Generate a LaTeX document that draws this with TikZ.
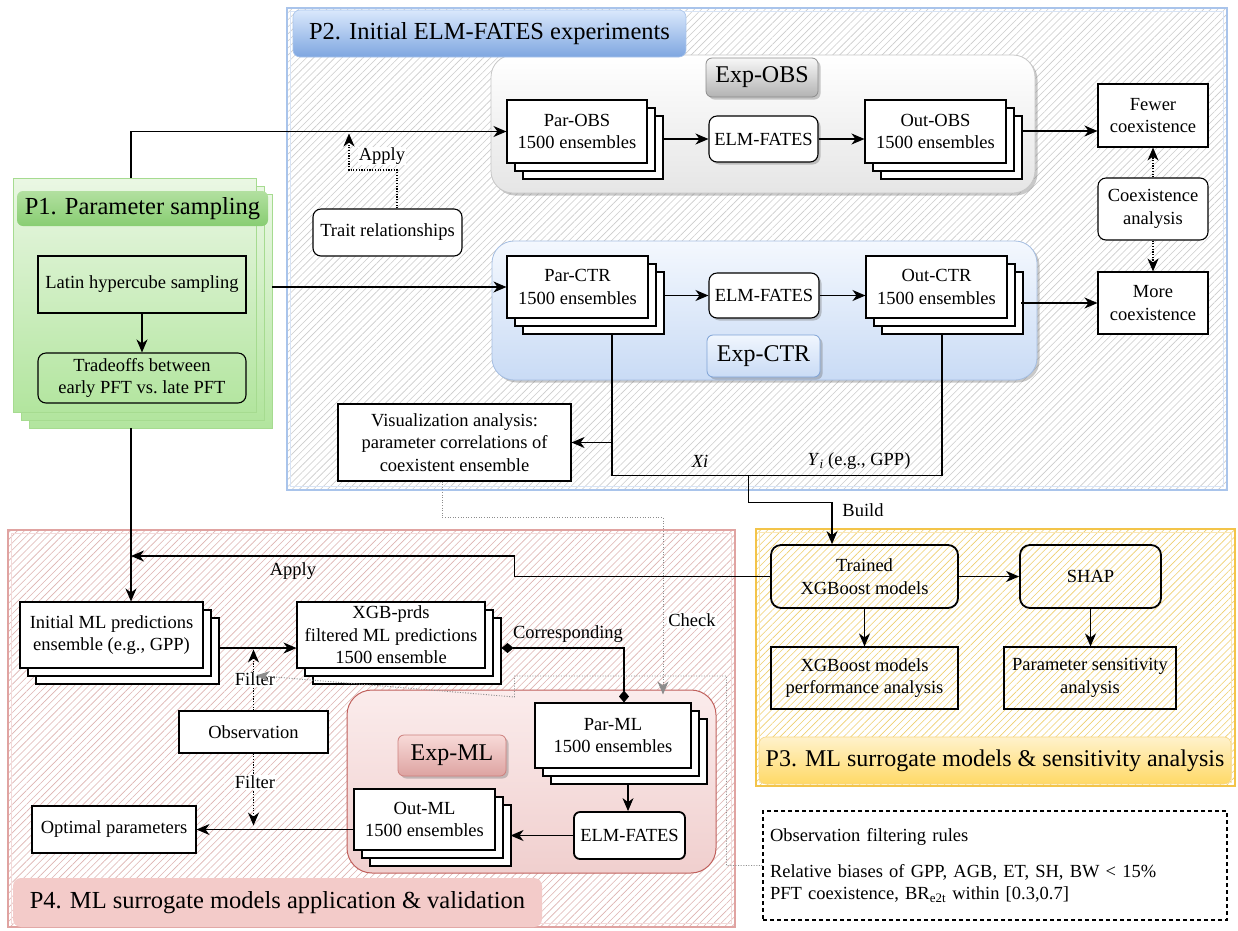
\documentclass[tikz,border=0pt]{standalone}
\usepackage{fontspec}
\setmainfont{Liberation Serif}
\usetikzlibrary{arrows.meta,shadows,patterns.meta,calc}
\definecolor{ptwoline}{HTML}{A9C4EB}
\definecolor{hatchgray}{HTML}{CCCCCC}
\definecolor{hatchyellow}{HTML}{EFCF6E}
\definecolor{hatchpink}{HTML}{DDB3B1}
\definecolor{pthreeline}{HTML}{F3C449}
\definecolor{pfourline}{HTML}{E0A3A1}
\definecolor{greenline}{HTML}{A6DB90}
\definecolor{greentop}{HTML}{EAF7E4}
\definecolor{greenbot}{HTML}{B2E59E}
\definecolor{ghdrtop}{HTML}{B2E0A0}
\definecolor{ghdrbot}{HTML}{88CD72}
\definecolor{bhdrtop}{HTML}{DAE8FC}
\definecolor{bhdrbot}{HTML}{7EA6E0}
\definecolor{bluebot}{HTML}{C9DBF5}
\definecolor{blueline}{HTML}{7FA3D6}
\definecolor{yhdrtop}{HTML}{FFF2CC}
\definecolor{yhdrbot}{HTML}{FFD966}
\definecolor{pinkhdr}{HTML}{F3CBC9}
\definecolor{mltop}{HTML}{FBECEC}
\definecolor{mlbot}{HTML}{F0CFCE}
\definecolor{mlline}{HTML}{C0605C}
\definecolor{mllbltop}{HTML}{F8DAD8}
\definecolor{mllblbot}{HTML}{DDA3A1}
\begin{document}
\begin{tikzpicture}[x=1pt,y=-1pt,
  txt/.style={font=\fontsize{18.5}{22.5}\selectfont},
  hdr/.style={font=\fontsize{24.5}{28}\selectfont, inner sep=0pt},
  box/.style={txt, draw=black, line width=1.1pt, fill=white, align=center, inner sep=1pt},
  tbox/.style={txt, draw=black, line width=1.1pt, align=center, inner sep=1pt},
  sketch/.style={txt, draw=black, line width=1.8pt, rounded corners=10pt, align=center, inner sep=1pt},
  stackbox/.style={box,
    general shadow={shadow xshift=16pt, shadow yshift=-16pt, draw=black, fill=white, line width=1.1pt},
    general shadow={shadow xshift=8pt, shadow yshift=-8pt, draw=black, fill=white, line width=1.1pt}},
  sh/.style={drop shadow={shadow xshift=2.5pt, shadow yshift=-2.5pt, opacity=0.35, fill=black!60}},
  arr/.style={line width=1.1pt, -{Stealth[length=13pt, width=11pt, inset=4pt]}},
  ln/.style={line width=1.1pt},
  dotarr/.style={line width=1.1pt, dash pattern=on 1.2pt off 1.5pt, -{Stealth[length=13pt, width=11pt, inset=4pt]}},
  grayarr/.style={line width=0.9pt, draw=black!45, dash pattern=on 1pt off 1.6pt, -{Stealth[length=13pt, width=11pt, inset=4pt, fill=black!45]}},
  lbl/.style={txt, fill=white, inner sep=1pt},
  nlbl/.style={txt, inner sep=1pt},
  hatch/.style={pattern={Lines[angle=45,distance=5pt,line width=0.6pt]}, pattern color=#1},
]
\useasboundingbox (0,0) rectangle (1238,930);
\fill[white] (0,0) rectangle (1238,930);

% ================= P2 frame
\fill[white] (287,8) rectangle (1227,490);
\fill[hatch=hatchgray] (287,8) rectangle (1227,490);
\draw[ptwoline, line width=1.2pt] (287,8) rectangle (1227,490);
\draw[ptwoline!45, line width=0.8pt] (290.5,11.5) rectangle (1223.5,486.5);

% Exp containers
\draw[black!22, line width=0.8pt, rounded corners=22pt, top color=white, bottom color=black!10, sh] (491,55) rectangle (1035,193);
\draw[blueline!70, line width=0.8pt, rounded corners=22pt, top color=bhdrtop!30, bottom color=bluebot, sh] (492,241) rectangle (1037,380);

\node[hdr, draw=ptwoline, line width=0.6pt, rounded corners=7pt, top color=bhdrtop, bottom color=bhdrbot, minimum width=393pt, minimum height=47pt] (p2h) at (489.5,33.5) {P2. Initial ELM-FATES experiments};

\node[hdr, font=\fontsize{24}{28}\selectfont, draw=black!45, line width=0.8pt, rounded corners=6pt, top color=black!3, bottom color=black!30, sh, minimum width=112pt, minimum height=39pt] (expobs) at (762,77.5) {Exp-OBS};
\node[hdr, font=\fontsize{24}{28}\selectfont, draw=blueline, line width=0.8pt, rounded corners=6pt, top color=bhdrtop!40, bottom color=bluebot, sh, minimum width=113pt, minimum height=42pt] (expctr) at (763.5,356) {Exp-CTR};

\node[stackbox, minimum width=140pt, minimum height=63pt] (parobs) at (577,131.5) {Par-OBS\\1500 ensembles};
\node[box, rounded corners=8pt, sh, minimum width=109pt, minimum height=46pt] (elmobs) at (763.5,139) {ELM-FATES};
\node[stackbox, minimum width=141pt, minimum height=63pt] (outobs) at (935.5,131.5) {Out-OBS\\1500 ensembles};
\node[box, minimum width=110pt, minimum height=63pt] (fewer) at (1153,115.5) {Fewer\\coexistence};
\node[box, rounded corners=8pt, minimum width=110pt, minimum height=62pt] (coex) at (1153,209) {Coexistence\\analysis};
\node[box, minimum width=110pt, minimum height=62pt] (more) at (1153,303) {More\\coexistence};
\node[stackbox, minimum width=141pt, minimum height=62pt] (parctr) at (577.5,287) {Par-CTR\\1500 ensembles};
\node[box, rounded corners=8pt, sh, minimum width=110pt, minimum height=45pt] (elmctr) at (764,295.5) {ELM-FATES};
\node[stackbox, minimum width=141pt, minimum height=62pt] (outctr) at (936.5,287) {Out-CTR\\1500 ensembles};
\node[box, rounded corners=8pt, minimum width=149pt, minimum height=47pt] (trait) at (387.5,232.5) {Trait relationships};
\node[box, minimum width=233pt, minimum height=77pt] (vis) at (454.5,442.5) {Visualization analysis:\\parameter correlations of\\coexistent ensemble};

% ================= P1
\foreach \d in {16,8,0} {
  \draw[greenline, line width=0.8pt, top color=greentop, bottom color=greenbot] (13+\d,178+\d) rectangle (256+\d,412+\d);
}
\node[hdr, rounded corners=6pt, top color=ghdrtop, bottom color=ghdrbot, minimum width=251pt, minimum height=35pt] (p1h) at (142.5,208.5) {P1. Parameter sampling};
\node[tbox, minimum width=208pt, minimum height=57pt] (lhs) at (142,284.5) {Latin hypercube sampling};
\node[tbox, rounded corners=8pt, minimum width=208pt, minimum height=50pt] (trade) at (142,378) {Tradeoffs between\\early PFT vs.\ late PFT};
\coordinate (p1top) at (131,178);
\coordinate (p1right) at (272,287);
\coordinate (p1bot) at (131,428);

% ================= P3
\fill[white] (756,529) rectangle (1235,786);
\fill[hatch=hatchyellow] (756,529) rectangle (1235,786);
\draw[pthreeline, line width=1.2pt] (756,529) rectangle (1235,786);
\draw[pthreeline!40, line width=0.8pt] (759.5,532.5) rectangle (1231.5,782.5);
\node[hdr, font=\fontsize{24}{28}\selectfont, draw=pthreeline!70, line width=0.6pt, rounded corners=7pt, top color=yhdrtop, bottom color=yhdrbot, minimum width=472pt, minimum height=47pt] (p3h) at (995,760.5) {P3. ML surrogate models \& sensitivity analysis};
\node[sketch, minimum width=187pt, minimum height=63pt] (trained) at (864.5,576.5) {Trained\\XGBoost models};
\node[sketch, minimum width=141pt, minimum height=63pt] (shap) at (1090.5,576.5) {SHAP};
\node[tbox, minimum width=187pt, minimum height=62pt] (perf) at (864.5,678) {XGBoost models\\performance analysis};
\node[tbox, minimum width=172pt, minimum height=62pt] (sens) at (1090,678) {Parameter sensitivity\\analysis};

% rules box
\node[txt, draw=black, line width=1.1pt, dash pattern=on 4pt off 3pt, minimum width=464pt, minimum height=109pt, text width=450pt, align=left] (rules) at (995,865.5) {Observation filtering rules\\[13pt]Relative biases of GPP, AGB, ET, SH, BW < 15\%\\PFT coexistence, BR\textsubscript{e2t} within [0.3,0.7]};

% ================= P4
\fill[white] (8,530) rectangle (735,927);
\fill[hatch=hatchpink] (8,530) rectangle (735,927);
\draw[pfourline, line width=1.2pt] (8,530) rectangle (735,927);
\draw[pfourline!40, line width=0.8pt] (11.5,533.5) rectangle (731.5,923.5);
\draw[mlline, line width=1pt, rounded corners=25pt, top color=mltop, bottom color=mlbot] (347,690) rectangle (716,873);
\node[hdr, rounded corners=8pt, fill=pinkhdr, minimum width=529pt, minimum height=49pt] (p4h) at (277.5,902.5) {P4. ML surrogate models application \& validation};
\node[hdr, font=\fontsize{24}{28}\selectfont, draw=mlline!80, line width=0.8pt, rounded corners=6pt, top color=mllbltop, bottom color=mllblbot, sh, minimum width=108pt, minimum height=41pt] (expml) at (452,755.5) {Exp-ML};

\node[stackbox, minimum width=183pt, minimum height=66pt] (initml) at (111.5,635) {Initial ML predictions\\ensemble (e.g., GPP)};
\node[stackbox, minimum width=188pt, minimum height=66pt] (xgb) at (391,635) {XGB-prds\\filtered ML predictions\\1500 ensemble};
\node[box, minimum width=149pt, minimum height=42pt] (obs) at (253.5,732) {Observation};
\node[box, minimum width=164pt, minimum height=47pt] (optimal) at (114,829.5) {Optimal parameters};
\node[stackbox, minimum width=156pt, minimum height=65pt] (parml) at (613,735.5) {Par-ML\\1500 ensembles};
\node[sketch, fill=white, rounded corners=6pt, minimum width=111pt, minimum height=47pt] (elmml) at (629.5,835.5) {ELM-FATES};
\node[stackbox, minimum width=141pt, minimum height=61pt] (outml) at (424.5,819.5) {Out-ML\\1500 ensembles};
\coordinate (applyend) at (131,556);

% ================= connectors
\draw[arr] (lhs) -- (trade);
\draw[arr] (p1top) |- (parobs.west);
\draw[arr] (p1right) -- (parctr.west);
\draw[dotarr] ($(trait.north)+(9.5,0)$) |- (349,170) -- (349,133.5);
\node[lbl] at (382,156) {Apply};

\draw[arr] ($(parobs.east |- elmobs.west)+(16,0)$) -- (elmobs.west);
\draw[arr] (elmobs.east) -- (elmobs.east -| outobs.west);
\draw[arr] ($(fewer.west)+(-76,15.5)$) -- ($(fewer.west)+(0,15.5)$);
\draw[arr] ($(parctr.east |- elmctr.west)+(16,0)$) -- (elmctr.west);
\draw[arr] (elmctr.east) -- (elmctr.east -| outctr.west);
\draw[arr] ($(more.west)+(-76,0)$) -- (more.west);
\draw[dotarr] (coex.north) -- (fewer.south);
\draw[dotarr] (coex.south) -- (more.north);

\draw[ln] ($(parctr.south)+(34.5,16)$) |- ($(outctr.south)+(5.5,157)$) -- ($(outctr.south)+(5.5,16)$);
\draw[arr] ($(vis.east)+(41,0)$) -- (vis.east);
\draw[arr] ($(vis.east)+(177,32.5)$) |- ($(trained.north)+(-32.5,-42)$) -- ($(trained.north)+(-32.5,0)$);
\node[nlbl] at (700,461) {\textit{Xi}};
\node[nlbl] at (859,461) {\textit{Y}\textsubscript{\textit{i}} (e.g., GPP)};
\node[nlbl] at (863,510) {Build};

\draw[arr] (trained.east) -- (shap.west);
\draw[arr] (trained.south) -- (perf.north);
\draw[arr] (shap.south) -- (shap.south |- sens.north);

\draw[arr] (trained.west) -- ++(-256,0) -- ++(0,-20.5) -- (applyend);
\node[nlbl] at (293,571) {Apply};
\draw[arr] (p1bot) -- (p1bot |- initml.north);
\draw[arr] ($(initml.east)+(16,13)$) -- ($(xgb.west)+(0,13)$);
\draw[dotarr] (obs.north) -- ++(0,-61);
\draw[dotarr] (obs.south) -- ++(0,72);
\node[lbl] at (255,679) {Filter};
\node[lbl] at (255,782) {Filter};
\draw[arr] (optimal.east -| outml.west) -- (optimal.east);

\draw[line width=1.1pt, {Diamond[length=12pt,width=10pt]}-{Diamond[length=12pt,width=10pt]}] ($(xgb.east)+(16,13)$) -| ($(parml.north)+(11,0)$);
\node[nlbl] at (568,634) {Corresponding};
\draw[arr] ($(parml.south)+(15,16)$) -- ($(elmml.north)+(-1.5,0)$);
\draw[arr] (elmml.west) -- ($(outml.east |- elmml.west)+(15,0)$);

\draw[grayarr] ($(vis.south)+(-12.5,0)$) -- ++(0,36) -| ($(parml.north)+(50,-8)$);
\node[lbl] at (692,620) {Check};
\draw[grayarr] (rules.west) -- ++(-36,0) -- ++(0,-189.5) -- ++(-212,0) -- ++(0,21) -- ($(obs.north)+(3,-35)$);
\end{tikzpicture}
\end{document}
